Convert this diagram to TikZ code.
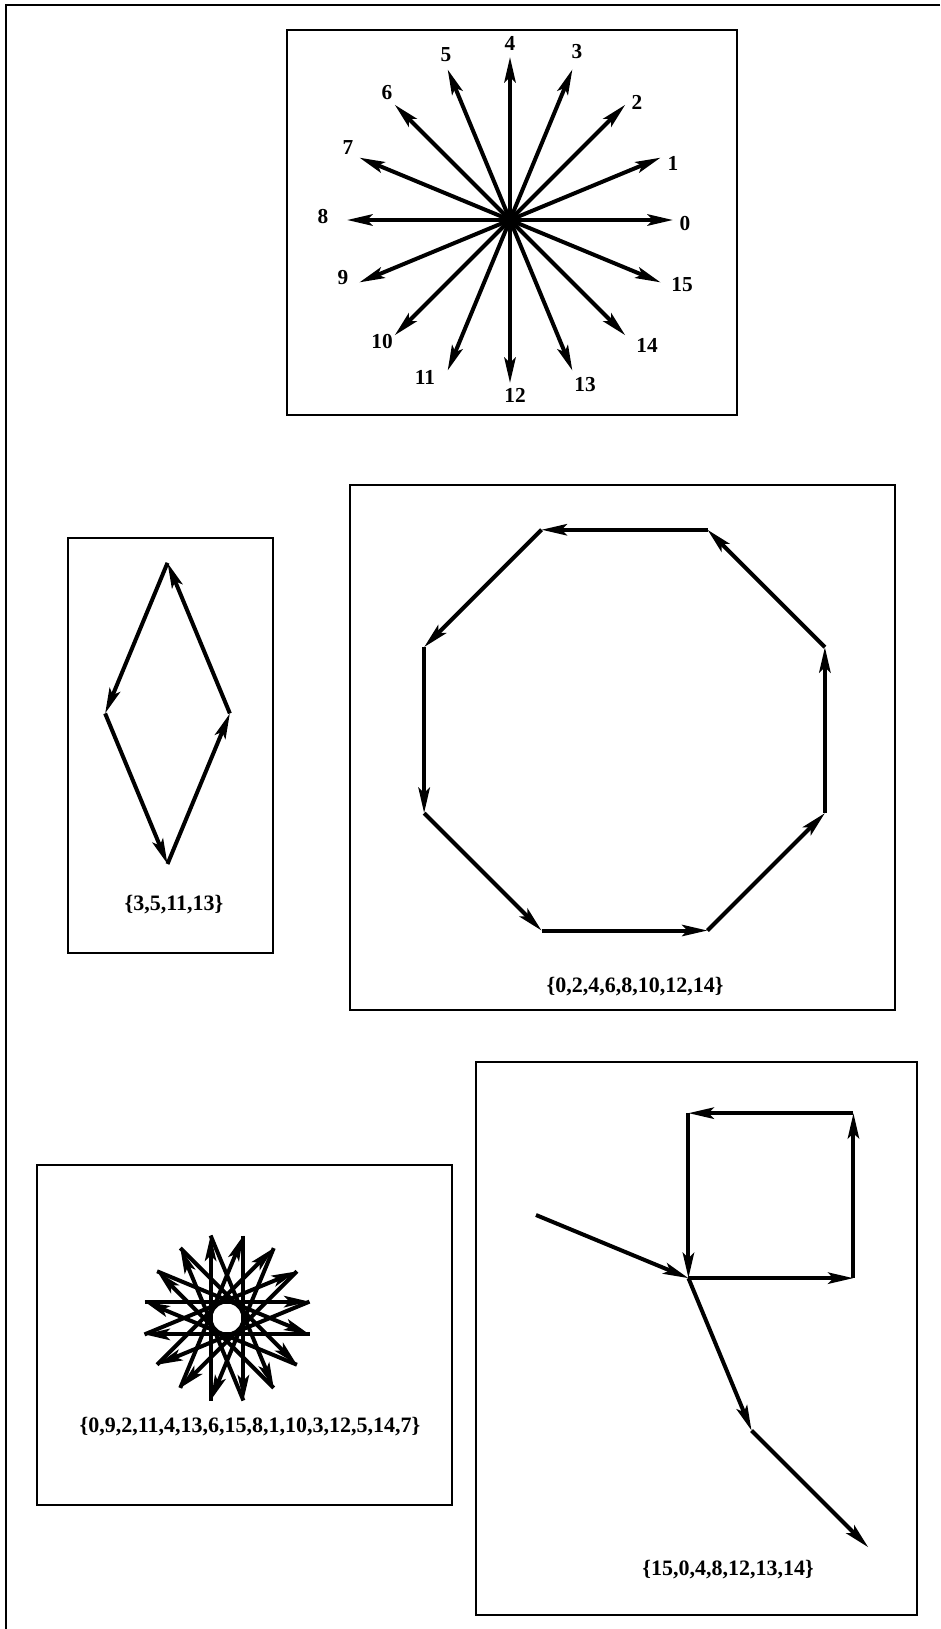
\documentclass[tikz,border=0pt]{standalone}
\usepackage{fontspec}
\setmainfont{Liberation Serif}
\usetikzlibrary{arrows.meta}
\begin{document}
\begin{tikzpicture}[x=0.75pt,y=-0.75pt,
  boxframe/.style={draw=black,line width=1.7pt},
  vec/.style={line width=3pt,-{Stealth[length=19pt,width=8.5pt,inset=4pt]}},
  lbl/.style={font=\fontsize{16}{19}\selectfont\bfseries,inner sep=0pt},
  captxt/.style={font=\fontsize{16.5}{19}\selectfont\bfseries,inner sep=0pt}]
\useasboundingbox (0,0) rectangle (940,1629);
\fill[white] (0,0) rectangle (940,1629);
% outer frame (left and top edges)
\coordinate (oTL) at (6,5);
\coordinate (oTR) at (940,5);
\coordinate (oBL) at (6,1629);
\draw[boxframe] (oTR) -- (oTL) -- (oBL);

% ---------- box 1: compass of 16 directions ----------
\draw[boxframe] (287,30) rectangle (737,415);
\coordinate (c) at (510,220);
\foreach \k in {0,...,15} {
  \coordinate (t\k) at ([shift={(-\k*22.5:163)}]c);
  \draw[vec] (c) -- (t\k);
}
\foreach \k/\x/\y in {0/685/224,1/673/163,2/637/102,3/577/52,4/510/43,5/446/55,
  6/387/93,7/348/148,8/323/217,9/343/278,10/382/342,11/425/377,12/515/395,
  13/585/385,14/647/345,15/682/285}
  \node[lbl] (n\k) at (\x,\y) {\k};

% ---------- box 2: diamond {3,5,11,13} ----------
\draw[boxframe] (68,538) rectangle (273,953);
\coordinate (d0) at (167.5,864);
\coordinate (d1) at ([shift={(-67.5:163)}]d0);
\coordinate (d2) at ([shift={(-112.5:163)}]d1);
\coordinate (d3) at ([shift={(-247.5:163)}]d2);
\draw[vec] (d0) -- (d1);
\draw[vec] (d1) -- (d2);
\draw[vec] (d2) -- (d3);
\draw[vec] (d3) -- (d0);
\node[captxt] (capA) at (174,905) {\{3,5,11,13\}};

% ---------- box 3: octagon {0,2,4,...,14} ----------
\draw[boxframe] (350,485) rectangle (895,1010);
\coordinate (o0) at (541.5,930.5);
\foreach \k [count=\i from 1, evaluate=\i as \j using int(\i-1)] in {0,2,4,6,8,10,12,14} {
  \coordinate (o\i) at ([shift={(-\k*22.5:166)}]o\j);
  \draw[vec] (o\j) -- (o\i);
}
\node[captxt] (capB) at (635,987) {\{0,2,4,6,8,10,12,14\}};

% ---------- box 4: star {0,9,2,11,...} ----------
\draw[boxframe] (37,1165) rectangle (452,1505);
\coordinate (s0) at (144.5,1301.6);
\foreach \k [count=\i from 1, evaluate=\i as \j using int(\i-1)] in {0,9,2,11,4,13,6,15,8,1,10,3,12,5,14,7} {
  \coordinate (s\i) at ([shift={(-\k*22.5:165)}]s\j);
  \draw[vec] (s\j) -- (s\i);
}
\node[captxt] (capC) at (250,1427) {\{0,9,2,11,4,13,6,15,8,1,10,3,12,5,14,7\}};

% ---------- box 5: path {15,0,4,8,12,13,14} ----------
\draw[boxframe] (476,1062) rectangle (917,1615);
\coordinate (p0) at (536,1215);
\foreach \k [count=\i from 1, evaluate=\i as \j using int(\i-1)] in {15,0,4,8,12,13,14} {
  \coordinate (p\i) at ([shift={(-\k*22.5:165)}]p\j);
  \draw[vec] (p\j) -- (p\i);
}
\node[captxt] (capD) at (728,1570) {\{15,0,4,8,12,13,14\}};
\end{tikzpicture}
\end{document}
